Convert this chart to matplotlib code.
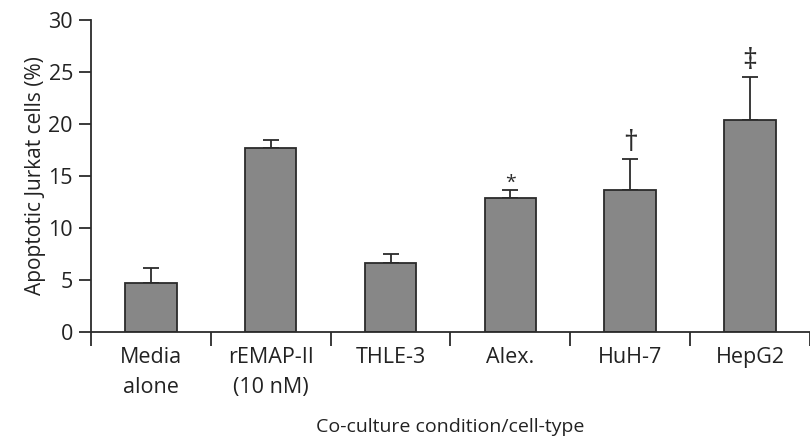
import matplotlib
matplotlib.use('Agg')
import matplotlib.pyplot as plt

plt.rcParams['font.family'] = ['Open Sans', 'DejaVu Sans']

# Data
conditions = ['Media\nalone', 'rEMAP-II\n(10 nM)', 'THLE-3', 'Alex.', 'HuH-7', 'HepG2']
apoptotic = [4.7, 17.7, 6.6, 12.9, 13.7, 20.4]
errors = [1.45, 0.8, 0.9, 0.75, 2.9, 4.1]
marks = ['', '', '', '*', '\u2020', '\u2021']

edge = '#2b2b2b'
text_col = '#222222'
# gap (data units) and size for each significance mark
mark_style = {'*': (-0.2, 14), '\u2020': (0.15, 21), '\u2021': (0.15, 21)}

fig = plt.figure(figsize=(8.1, 4.37), dpi=100)
ax = fig.add_axes([0.1123, 0.2403, 0.8877, 0.7139])

x = list(range(len(conditions)))
ax.bar(x, apoptotic, width=0.43, color='#878787', edgecolor=edge, linewidth=1.3,
       zorder=2)
ax.errorbar(x, apoptotic, yerr=[[0] * len(errors), errors], fmt='none',
            ecolor=edge, elinewidth=1.3, capsize=6, capthick=1.3, zorder=1)

for xi, y, e, m in zip(x, apoptotic, errors, marks):
    if m:
        gap, size = mark_style[m]
        ax.text(xi, y + e + gap, m, ha='center', va='bottom', fontsize=size,
                color=edge)

ax.set_xlim(-0.5, 5.44)
ax.set_ylim(0, 30)
ax.set_yticks([0, 5, 10, 15, 20, 25, 30])

ax.set_xticks(x)
ax.set_xticklabels(conditions, linespacing=1.55)
ax.set_xticks([i - 0.5 for i in range(len(conditions) + 1)], minor=True)
ax.tick_params(axis='x', which='major', length=0, pad=11, labelsize=15.5,
               colors=text_col)
ax.tick_params(axis='x', which='minor', length=10, width=1.3, color=edge,
               direction='out')
ax.tick_params(axis='y', length=9, width=1.3, color=edge, labelsize=15.5,
               labelcolor=text_col, pad=4)

for s in ['top', 'right']:
    ax.spines[s].set_visible(False)
for s in ['left', 'bottom']:
    ax.spines[s].set_linewidth(1.3)
    ax.spines[s].set_color(edge)

ax.set_ylabel('Apoptotic Jurkat cells (%)', fontsize=15, color=text_col,
              labelpad=2)
ax.set_xlabel('Co-culture condition/cell-type', fontsize=14, color=text_col,
              labelpad=14)

fig.savefig('out.png', dpi=100)
